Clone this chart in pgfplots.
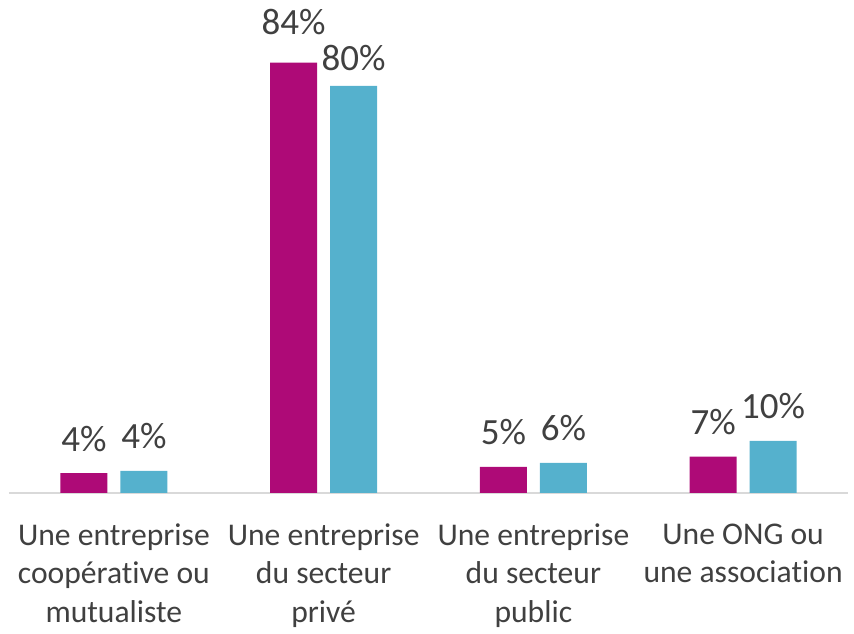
\documentclass[border=0pt]{standalone}
\usepackage{pgfplots}
\usepackage{pgfplotstable}
\pgfplotsset{compat=1.18}
\usepackage{fontspec}
\setmainfont{Carlito}[Ligatures=NoCommon]
\definecolor{cmag}{RGB}{174,10,119}
\definecolor{ccyan}{RGB}{85,177,205}
\definecolor{ctxt}{RGB}{64,64,64}
\definecolor{caxis}{RGB}{217,217,217}
\pgfplotstableread{
x y s
0 3.9 22
1 84 28
2 5.1 22
3 7.1 22
}\tmag
\pgfplotstableread{
x y s
0 4.3 22
1 79.5 15
2 5.9 22
3 10.2 22
}\tcyan
\begin{document}
\begin{tikzpicture}
\useasboundingbox (0,0) rectangle (854pt,634pt);
\begin{axis}[
  at={(9pt,141pt)}, anchor=south west,
  scale only axis, width=839pt, height=461pt,
  xmin=-0.5, xmax=3.5, ymin=0, ymax=90,
  axis x line*=bottom, axis y line=none,
  axis line style={draw=caxis, line width=1.5pt, -},
  xtick={0,1,2,3},
  xticklabels={{Une entreprise\\coopérative ou\\mutualiste},{Une entreprise\\du secteur\\privé},{Une entreprise\\du secteur\\public},{Une ONG ou\\une association}},
  major tick length=0pt,
  xticklabel style={align=center, font=\fontsize{31.6}{38.5}\selectfont, text=ctxt, anchor=north, yshift=-27pt},
  ytick=\empty,
  ybar, bar width=47pt,
  /pgf/number format/assume math mode=true,
  visualization depends on={\thisrow{s}\as\sh},
  nodes near coords={\pgfmathprintnumber[fixed,precision=0]{\pgfplotspointmeta}\%},
  every node near coord/.append style={font=\fontsize{37}{44}\selectfont, text=ctxt, anchor=base, yshift=\sh pt},
  clip=false,
]
\addplot[fill=cmag, draw=none, bar shift=-30pt] table[x=x,y=y] {\tmag};
\addplot[fill=ccyan, draw=none, bar shift=30pt] table[x=x,y=y] {\tcyan};
\end{axis}
\end{tikzpicture}
\end{document}
